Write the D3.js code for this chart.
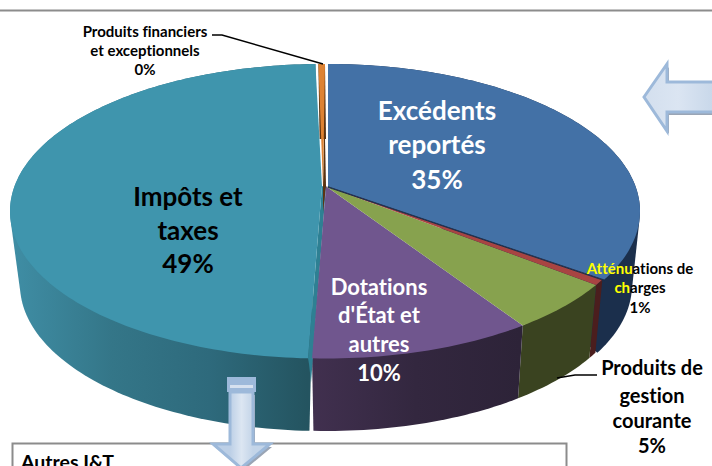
<!DOCTYPE html>
<html lang="fr">
<head>
<meta charset="utf-8">
<title>Produits</title>
<script src="https://cdn.jsdelivr.net/npm/d3@7"></script>
<style>
  body { margin: 0; background: #fff; }
  svg { display: block; }
  text { font-family: Lato, "Open Sans", sans-serif; font-weight: 700; text-anchor: middle; font-variant-ligatures: none; }
</style>
</head>
<body>
<div id="chart"></div>
<script>
// valeurs (%)
const categories = ["Excédents reportés", "Atténuations de charges", "Produits de gestion courante",
                    "Dotations d'État et autres", "Impôts et taxes", "Produits financiers et exceptionnels"];
const values = [35, 0.6, 5.15, 9.85, 49, 0.4];
const percentLabels = ["35%", "1%", "5%", "10%", "49%", "0%"];

const topColors = ["#4371a6", "#a84442", "#87a24e", "#70568e", "#3f95ad", "#dd8233"];
const wallColors = ["#1b2f4c", "#4b1e1e", "#3a4320", "url(#wallPurple)", "url(#wallTeal)", "#5b3412"];
const offsets = [2, 0, 0, 0, -4, -1]; // éclatement horizontal des parts
const apexOffsets = [2, 0, 0, 0, -4, -3];

const width = 712, height = 466;
const persp = -0.17; // le centre du camembert est décalé vers le haut par la perspective

const svg = d3.select("#chart").append("svg")
    .attr("width", width)
    .attr("height", height);

const defs = svg.append("defs");

function hGradient(id, x1, x2, stops) {
    const g = defs.append("linearGradient")
        .attr("id", id)
        .attr("gradientUnits", "userSpaceOnUse")
        .attr("x1", x1).attr("x2", x2).attr("y1", 0).attr("y2", 0);
    stops.forEach((s, i) => g.append("stop").attr("offset", i / (stops.length - 1)).attr("stop-color", s));
}
hGradient("wallTeal", 14, 307, ["#3f8da4", "#347688", "#2e6a7c", "#245460"]);
hGradient("wallPurple", 312, 520, ["#41304f", "#33273f", "#2d2338"]);
hGradient("arrowH", 644, 712, ["#d3dfee", "#dbe5f2", "#c9d8ea"]);
hGradient("arrowV", 230, 253, ["#bccfe6", "#dce6f2", "#c3d4e8"]);

// ellipse du dessus et ellipse du bas
const topX = d3.scaleLinear().domain([-1, 1]).range([14, 638]);
const topY = d3.scaleLinear().domain([-1, 1]).range([64, 358.5]);
const botX = d3.scaleLinear().domain([-1, 1]).range([24, 630]);
const botY = d3.scaleLinear().domain([-1, 1]).range([139, 431]);

// point du disque (angle depuis le haut, sens horaire) projeté en perspective
function project(angle, r, sx, sy, dx) {
    const u = r * Math.sin(angle), v = -r * Math.cos(angle);
    const d = 1 + persp * v;
    return [sx(u * Math.sqrt(1 - persp * persp) / d) + dx, sy((v + persp) / d)];
}

const line = d3.line();
const pie = d3.pie().sort(null).startAngle(0).endAngle(2 * Math.PI);
const arcs = pie(values);

function arcPoints(a, sx, sy, dx) {
    const n = Math.max(2, Math.ceil((a.endAngle - a.startAngle) / 0.02));
    return d3.range(n + 1).map(i => project(a.startAngle + (a.endAngle - a.startAngle) * i / n, 1, sx, sy, dx));
}

const layer = svg.append("g");

// flancs : enveloppe convexe de l'arc du haut et de l'arc du bas
arcs.forEach((a, i) => {
    const upper = arcPoints(a, topX, topY, offsets[i]);
    const lower = arcPoints(a, botX, botY, offsets[i]);
    layer.append("path")
        .attr("d", line(d3.polygonHull(upper.concat(lower))) + "Z")
        .attr("fill", wallColors[i]);
});

// coupes intérieures visibles entre les parts
const apex = i => project(0, 0, topX, topY, apexOffsets[i]);
const tealEnd = project(arcs[4].startAngle, 1, topX, topY, offsets[4]);
layer.append("path")
    .attr("d", line([apex(4), tealEnd, [tealEnd[0] + 1, tealEnd[1] + 6], [tealEnd[0] + 3, tealEnd[1] + 24], apex(3)]) + "Z")
    .attr("fill", "#2e8093");
const orangeRight = project(arcs[5].endAngle, 1, topX, topY, offsets[5]);
layer.append("path")
    .attr("d", line([[orangeRight[0] - 0.5, orangeRight[1] + 50], apex(1), [apex(1)[0] - 3, apex(1)[1] + 26], apex(5)]) + "Z")
    .attr("fill", wallColors[5]);
const blueEnd = project(arcs[0].endAngle, 1, topX, topY, offsets[0]);
layer.append("path")
    .attr("d", line([apex(0), blueEnd]))
    .attr("stroke", "#1b2f4c").attr("stroke-width", 2.5).attr("fill", "none");

// faces du dessus
[5, 4, 3, 2, 1, 0].forEach(i => {
    layer.append("path")
        .attr("d", line([apex(i)].concat(arcPoints(arcs[i], topX, topY, offsets[i]))) + "Z")
        .attr("fill", topColors[i]);
});
layer.append("path")
    .attr("d", line([[apex(0)[0], apex(0)[1] + 1], [blueEnd[0], blueEnd[1] + 1]]))
    .attr("stroke", "#1b2f4c").attr("stroke-width", 1).attr("fill", "none");

// lignes de repère
const leader = [[[212, 35], [222, 35], [323, 64]], [[597, 375], [575, 375], [557, 378]]];
svg.append("g").selectAll("path").data(leader).join("path")
    .attr("d", d => line(d))
    .attr("fill", "none").attr("stroke", "#000").attr("stroke-width", 1.5);

// étiquettes
function label(lines, x, ys, size, color) {
    const t = svg.append("text").attr("font-size", size).attr("fill", color);
    lines.forEach((l, i) => t.append("tspan").attr("x", x).attr("y", ys[i]).text(l));
}
label(["Excédents", "reportés", percentLabels[0]], 437, [120, 154, 189], 26, "#fff");
label(["Impôts et", "taxes", percentLabels[4]], 188, [206, 240, 273], 26, "#000");
label(["Dotations", "d'État et", "autres", percentLabels[3]], 379, [295, 323, 352, 381], 22, "#fff");
label(["Produits de", "gestion", "courante", percentLabels[2]], 652, [375, 403, 428, 453], 20, "#000");
label(["Produits financiers", "et exceptionnels", percentLabels[5]], 145, [37, 56, 75], 15, "#000");

// « Atténuations de charges » : début en jaune sur la part sombre
const att = svg.append("text").attr("font-size", 15);
const attLine1 = att.append("tspan").attr("x", 640).attr("y", 274);
attLine1.append("tspan").attr("fill", "#ffff00").text("Atténu");
attLine1.append("tspan").attr("fill", "#000").text("ations de");
const attLine2 = att.append("tspan").attr("x", 640).attr("y", 293);
attLine2.append("tspan").attr("fill", "#ffff00").text("ch");
attLine2.append("tspan").attr("fill", "#000").text("arges");
att.append("tspan").attr("x", 640).attr("y", 313).attr("fill", "#000").text(percentLabels[1]);

// filet du haut et encadré
svg.append("rect").attr("x", 0).attr("y", 9.5).attr("width", width).attr("height", 2).attr("fill", "#8c8c8c");
svg.append("rect").attr("x", 12.5).attr("y", 443.5).attr("width", 554).attr("height", 40)
    .attr("fill", "#fff").attr("stroke", "#8c8c8c").attr("stroke-width", 2);
svg.append("text").attr("x", 21).attr("y", 469).attr("font-size", 19.5).attr("fill", "#000")
    .style("text-anchor", "start").text("Autres I&T");

// flèche de droite
const arrowLeft = [[644, 97], [667, 64], [667, 82], [714, 82], [714, 112], [667, 112], [667, 131]];
svg.append("path").attr("d", line(arrowLeft.map(p => [p[0] + 2, p[1] + 3])) + "Z").attr("fill", "#9aa5b5");
svg.append("path").attr("d", line(arrowLeft) + "Z")
    .attr("fill", "url(#arrowH)").attr("stroke", "#9db9da").attr("stroke-width", 3).attr("stroke-linejoin", "miter");

// flèche du bas
const arrowDown = [[230, 392], [253, 392], [253, 444], [270, 444], [241, 468], [213, 444], [230, 444]];
svg.append("path").attr("d", line(arrowDown.map(p => [p[0] + 2, p[1] + 3])) + "Z").attr("fill", "#9aa5b5");
svg.append("path").attr("d", line(arrowDown) + "Z")
    .attr("fill", "url(#arrowV)").attr("stroke", "#9db9da").attr("stroke-width", 3);
svg.append("rect").attr("x", 227).attr("y", 377).attr("width", 29).attr("height", 15).attr("fill", "#9db9da");
svg.append("rect").attr("x", 230).attr("y", 385).attr("width", 23).attr("height", 3).attr("fill", "#d6e1ef");
</script>
</body>
</html>
